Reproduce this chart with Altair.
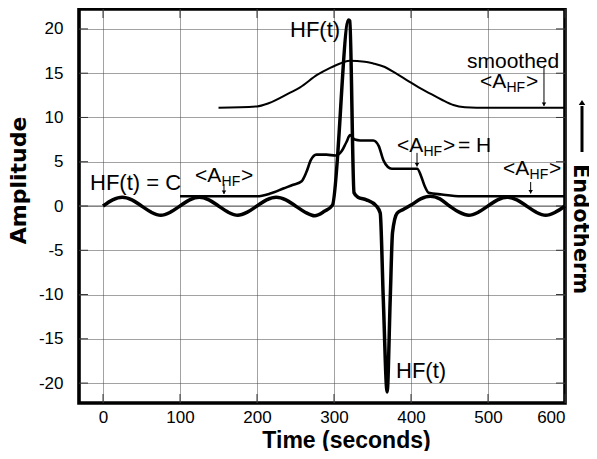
import altair as alt
import pandas as pd

# ---------------- data ----------------
HF_T = [0, 12.5, 25, 37.5, 50, 62.5, 75, 87.5, 100, 112.5, 125, 137.5, 150, 162.5, 175, 187.5,
        200, 212.5, 225, 237.5, 250, 262.5, 275, 287.5, 298, 319, 320.5, 326, 331, 342, 355, 360,
        364, 369, 373, 376, 382, 390, 400, 412.5, 425, 437.5, 450, 462.5, 475, 487.5, 500,
        512.5, 525, 537.5, 550, 562.5, 575, 587.5, 600]
HF_A = [0, 0.7, 1.0, 0.7, 0, -0.7, -1.05, -0.7, 0, 0.7, 1.0, 0.7, 0, -0.7, -1.05, -0.7,
        0, 0.7, 1.0, 0.7, 0, -0.7, -1.1, -0.6, 0.1, 21.0, 20.9, 1.5, 1.0, 0.7, 0.0, -0.8,
        -10.5, -21.0, -10.5, -3.0, -0.8, -0.4, 0.1, 0.8, 1.1, 0.8, 0, -0.7, -1.05, -0.7, 0,
        0.7, 1.0, 0.7, 0, -0.7, -1.05, -0.7, 0]

AVG_T = [100, 200, 217, 235, 247, 258, 264, 270, 277, 290, 302, 310, 316, 321, 327, 334,
         351, 358, 364, 370, 375, 408, 413, 418, 423, 440, 465, 600]
AVG_A = [1.1, 1.1, 1.4, 2.0, 2.4, 2.8, 3.8, 5.2, 5.8, 5.8, 5.7, 6.2, 7.2, 8.0, 7.5, 7.4,
         7.4, 6.8, 5.2, 4.4, 4.2, 4.2, 3.4, 2.2, 1.5, 1.3, 1.1, 1.1]

SM_T = [150, 200, 215, 243, 256, 278, 295, 308, 320, 340, 351, 366, 380, 395, 410, 425,
        440, 455, 470, 485, 600]
SM_A = [11.1, 11.25, 11.6, 12.8, 13.4, 14.8, 15.6, 16.1, 16.4, 16.3, 16.1, 15.7, 15.0,
        14.2, 13.4, 12.7, 12.0, 11.4, 11.15, 11.1, 11.1]

X_TICKS = [0, 100, 200, 300, 400, 500, 600]
Y_TICKS = [-20, -15, -10, -5, 0, 5, 10, 15, 20]
X_DOMAIN = [-31.2, 600]
Y_DOMAIN = [-22.25, 22.25]

# plain labels (left edge, baseline) in data units
LBL_TEXT = ["HF(t) = C", "HF(t)", "HF(t)"]
LBL_T = [-16.9, 242.9, 380.5]
LBL_A = [1.81, 19.09, -19.43]
SMOOTH_TEXT = ["smoothed"]
SMOOTH_T = [472.7]
SMOOTH_A = [15.59]

# <A_HF> labels (left edge of "<", baseline)
AHF_T = [119.5, 381.8, 519.5, 489.6]
AHF_A = [2.71, 6.10, 3.50, 13.33]
EQ_T = [381.8]
EQ_A = [6.10]

# arrows: time, start amplitude, tip amplitude
ARR_T = [157.1, 407.8, 555.4, 572.7]
ARR_A1 = [2.48, 6.0, 2.71, 15.8]
ARR_A2 = [1.36, 4.46, 1.41, 11.3]

# ---------------- chart ----------------
W, H = 486, 394
FONT = "Liberation Sans"
xs = alt.Scale(domain=X_DOMAIN, nice=False, zero=False)
ys = alt.Scale(domain=Y_DOMAIN, nice=False, zero=False)

X_AXIS = alt.Axis(
    values=X_TICKS, grid=True, ticks=False, domain=False, labelFont=FONT, labelFontSize=17,
    labelColor="black", labelPadding=6, labelExpr="'' + datum.value",
    title="Time (seconds)", titleFont=FONT,
    titleFontSize=23, titleFontWeight="bold", titleColor="black", titleX=267, titleY=44,
    titleAlign="center", titleBaseline="alphabetic")
Y_AXIS = alt.Axis(
    values=Y_TICKS, grid=True, ticks=False, domain=False, labelFont=FONT, labelFontSize=17,
    labelColor="black", labelPadding=16, labelExpr="'' + datum.value",
    title="Amplitude", titleFont="DejaVu Sans",
    titleFontSize=22, titleFontWeight="bold", titleColor="black", titleAngle=270,
    titleX=-54, titleY=171, titleAlign="center", titleBaseline="alphabetic")


def X(field="t"):
    return alt.X(f"{field}:Q", scale=xs, axis=X_AXIS)


def Y(field="a"):
    return alt.Y(f"{field}:Q", scale=ys, axis=Y_AXIS)


hf = pd.DataFrame({"t": HF_T, "a": HF_A})
avg = pd.DataFrame({"t": AVG_T, "a": AVG_A})
sm = pd.DataFrame({"t": SM_T, "a": SM_A})

zero_line = alt.Chart(pd.DataFrame({"a": [0]})).mark_rule(color="#666", strokeWidth=1).encode(y=Y())

xt = pd.DataFrame({"t": X_TICKS})
yt = pd.DataFrame({"a": Y_TICKS})
tick_b = alt.Chart(xt).mark_rule(color="#333").encode(x=X(), y=alt.value(H), y2=alt.value(H - 9))
tick_t = alt.Chart(xt).mark_rule(color="#333").encode(x=X(), y=alt.value(0), y2=alt.value(9))
tick_l = alt.Chart(yt).mark_rule(color="#333").encode(y=Y(), x=alt.value(0), x2=alt.value(9))
tick_r = alt.Chart(yt).mark_rule(color="#333").encode(y=Y(), x=alt.value(W - 9), x2=alt.value(W))

avg_line = alt.Chart(avg).mark_line(color="black", strokeWidth=2.6, interpolate="monotone").encode(x=X(), y=Y())
sm_line = alt.Chart(sm).mark_line(color="black", strokeWidth=2, interpolate="monotone").encode(x=X(), y=Y())
hf_line = alt.Chart(hf).mark_line(color="black", strokeWidth=3.5, interpolate="monotone").encode(x=X(), y=Y())

lbl = alt.Chart(pd.DataFrame({"t": LBL_T, "a": LBL_A, "s": LBL_TEXT})).mark_text(
    font=FONT, fontSize=22, align="left", baseline="alphabetic", color="black").encode(
    x=X(), y=Y(), text="s:N")
smooth_lbl = alt.Chart(pd.DataFrame({"t": SMOOTH_T, "a": SMOOTH_A, "s": SMOOTH_TEXT})).mark_text(
    font=FONT, fontSize=21, align="left", baseline="alphabetic", color="black").encode(
    x=X(), y=Y(), text="s:N")

ahf = pd.DataFrame({"t": AHF_T, "a": AHF_A})
ahf_a = alt.Chart(ahf).mark_text(text="<A", font=FONT, fontSize=21, align="left",
                                 baseline="alphabetic", color="black").encode(x=X(), y=Y())
ahf_sub = alt.Chart(ahf).mark_text(text="HF", font=FONT, fontSize=14, align="left",
                                   baseline="alphabetic", dx=26.5, dy=4, color="black").encode(x=X(), y=Y())
ahf_gt = alt.Chart(ahf).mark_text(text=">", font=FONT, fontSize=21, align="left",
                                  baseline="alphabetic", dx=46, color="black").encode(x=X(), y=Y())
eq = alt.Chart(pd.DataFrame({"t": EQ_T, "a": EQ_A})).mark_text(
    text="= H", font=FONT, fontSize=21, align="left", baseline="alphabetic", dx=61,
    color="black").encode(x=X(), y=Y())

arr = pd.DataFrame({"t": ARR_T, "a": ARR_A1, "a2": ARR_A2})
arr_line = alt.Chart(arr).mark_rule(color="black", strokeWidth=1).encode(x=X(), y=Y(), y2="a2:Q")
arr_head = alt.Chart(arr).mark_point(shape="M -1.3 -2 L 1.3 -2 L 0 0 Z", size=12, filled=True,
                                     color="black", opacity=1, strokeWidth=0).encode(x=X(), y=Y("a2"))

one = pd.DataFrame({"k": [0]})
endo_text = alt.Chart(one).mark_text(text="Endotherm", font="DejaVu Sans", fontWeight="bold",
                                     fontSize=21, angle=90, align="left", baseline="alphabetic",
                                     color="black").encode(x=alt.value(495), y=alt.value(155))
endo_line = alt.Chart(one).mark_rule(color="black", strokeWidth=3).encode(
    x=alt.value(503), y=alt.value(97), y2=alt.value(143))
endo_head = alt.Chart(one).mark_point(shape="M -1.3 2 L 1.3 2 L 0 0 Z", size=25, filled=True,
                                      color="black", opacity=1, strokeWidth=0).encode(
    x=alt.value(503), y=alt.value(91))

chart = alt.layer(
    zero_line, tick_b, tick_t, tick_l, tick_r,
    sm_line, avg_line, hf_line,
    lbl, smooth_lbl, ahf_a, ahf_sub, ahf_gt, eq, arr_line, arr_head,
    endo_text, endo_line, endo_head,
).properties(
    width=W, height=H,
    autosize=alt.AutoSizeParams(type="none"),
    padding={"left": 71, "top": 1, "right": 24, "bottom": 48},
    background="white",
).configure_view(
    stroke="black", strokeWidth=3.6
).configure_axis(
    gridColor="#444", gridDash=[1, 1], gridWidth=1, gridOpacity=1
)

chart.save("out.html", embed_options={"renderer": "svg", "actions": False})
